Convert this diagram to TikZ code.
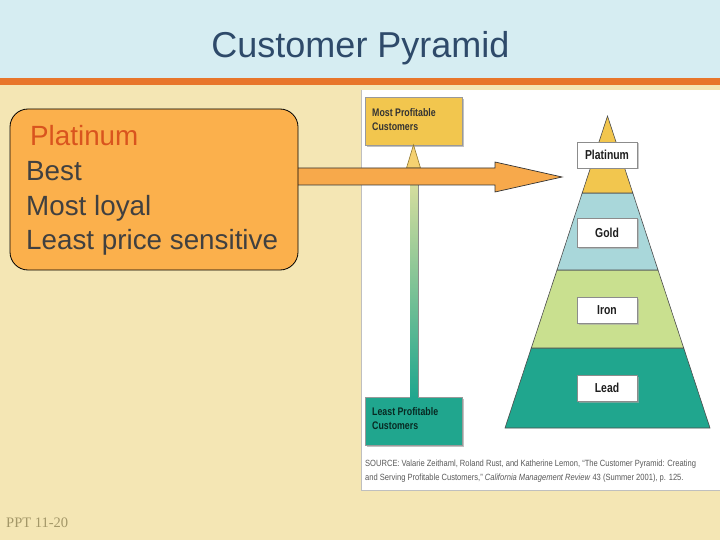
\documentclass[tikz,border=0pt]{standalone}
\usepackage{fontspec}
\setmainfont{Liberation Sans}
\newfontfamily\condfont[FakeStretch=0.8]{Liberation Sans}
\newfontfamily\srcfont[FakeStretch=0.84]{Liberation Sans}
\newfontfamily\footfont{Liberation Serif}
\usetikzlibrary{shadows}
\definecolor{hdrblue}{HTML}{D6EDF2}
\definecolor{stripe}{HTML}{E8762B}
\definecolor{bgbeige}{HTML}{F4E6B4}
\definecolor{boxorange}{HTML}{FBB04C}
\definecolor{platred}{HTML}{D9541E}
\definecolor{bodygray}{HTML}{404040}
\definecolor{arroworange}{HTML}{F7A94B}
\definecolor{titleblue}{HTML}{2E4A6A}
\definecolor{pyryellow}{HTML}{F2C64E}
\definecolor{pyrblue}{HTML}{A9D7DA}
\definecolor{pyrgreen}{HTML}{C9E08F}
\definecolor{pyrteal}{HTML}{20A68E}
\definecolor{footcol}{HTML}{A39768}
\definecolor{darktext}{HTML}{1E1E1E}
\tikzset{
  bodytext/.style={anchor=base west, inner sep=0pt, font=\fontsize{27.8}{34}\selectfont, text=bodygray},
  layer/.style={draw=black!70, line width=0.6pt},
  tierbox/.style={draw=black!45, fill=white, line width=0.6pt, minimum width=60pt, minimum height=26pt, inner sep=0pt,
     font=\condfont\bfseries\fontsize{13}{13}\selectfont, text=darktext,
     drop shadow={shadow xshift=1.5pt, shadow yshift=-1.5pt, fill=black!35, opacity=0.6}},
  endbox/.style={draw=black!40, line width=0.6pt, minimum width=97pt, minimum height=48pt, inner sep=0pt,
     drop shadow={shadow xshift=2pt, shadow yshift=-2pt, fill=black!40, opacity=0.6}},
  endtext/.style={anchor=base west, inner sep=0pt, font=\condfont\bfseries\fontsize{11}{11}\selectfont},
  srctext/.style={anchor=base west, inner sep=0pt, font=\srcfont\fontsize{9}{9}\selectfont, text=black!65}
}
\begin{document}
\begin{tikzpicture}[x=1pt,y=-1pt]
\useasboundingbox (0,0) rectangle (720,540);
% backgrounds
\fill[bgbeige] (0,0) rectangle (720,540);
\fill[hdrblue] (0,0) rectangle (720,78);
\fill[stripe] (0,78) rectangle (720,85);
\node[anchor=base, inner sep=0pt, font=\fontsize{36}{40}\selectfont, text=titleblue] (title) at (360.5,58) {Customer Pyramid};

% image panel
\fill[white] (361,90) rectangle (720,490);
\draw[black!25, line width=0.8pt] (361,90) -- (361,490) -- (720,490);

% pyramid layers
\filldraw[layer, fill=pyrteal] (531.3,348) -- (683.7,348) -- (710,428) -- (505,428) -- cycle;
\filldraw[layer, fill=pyrgreen] (557,270) -- (658,270) -- (683.7,348) -- (531.3,348) -- cycle;
\filldraw[layer, fill=pyrblue] (582.2,193) -- (632.8,193) -- (658,270) -- (557,270) -- cycle;
\filldraw[layer, fill=pyryellow] (607.5,116) -- (632.8,193) -- (582.2,193) -- cycle;

\node[tierbox] (plat) at (607,155) {Platinum};
\node[tierbox, minimum height=29pt] (gold) at (607,232.5) {Gold};
\node[tierbox] (iron) at (607,310) {Iron};
\node[tierbox] (lead) at (607,388) {Lead};

% end boxes
\node[endbox, fill=pyryellow] (most) at (413.5,121.5) {};
\node[endtext, text=black!80] (most1) at (372,117) {Most Profitable};
\node[endtext, text=black!80] (most2) at (372,131) {Customers};
\node[endbox, fill=pyrteal] (least) at (413.5,421) {};
\node[endtext, text=black!75!pyrteal] (least1) at (372,415) {Least Profitable};
\node[endtext, text=black!75!pyrteal] (least2) at (372,429) {Customers};

% vertical arrow
\shade[top color=pyrgreen!60!pyryellow!70!white, bottom color=pyrteal] (410,166) rectangle (418,397);
\draw[black!45, line width=1pt] (418,166) -- (418,397);
\filldraw[fill=pyryellow!80!white, draw=black!40!pyryellow, line width=0.6pt] (most.south) ++(0,-1) coordinate (vtip) -- (420.5,168) -- (406.5,168) -- cycle;

% source text
\node[srctext] (src1) at (365,466) {SOURCE: Valarie Zeithaml, Roland Rust, and Katherine Lemon, “The Customer Pyramid: Creating};
\node[srctext] (src2) at (365,480) {and Serving Profitable Customers,” \textit{California Management Review} 43 (Summer 2001), p. 125.};

% big arrow
\coordinate (tip) at (562,177);
\filldraw[fill=arroworange, draw=black!80, line width=0.7pt]
  (290,168) -- (495,168) -- (495,162) -- (tip) -- (495,192) -- (495,185) -- (290,185);

% left box
\node[draw=black, line width=0.8pt, fill=boxorange, rounded corners=18pt, minimum width=288pt, minimum height=161pt] (box) at (154,189.5) {};
\node[bodytext, text=platred] (t0) at (30,146) {Platinum};
\node[bodytext] (t1) at (26,181) {Best};
\node[bodytext] (t2) at (26,215) {Most loyal};
\node[bodytext] (t3) at (26,249) {Least price sensitive};

% footer
\node[anchor=base west, inner sep=0pt, font=\footfont\fontsize{14.5}{15}\selectfont, text=footcol] (foot) at (6,527) {PPT 11-20};
\end{tikzpicture}
\end{document}
